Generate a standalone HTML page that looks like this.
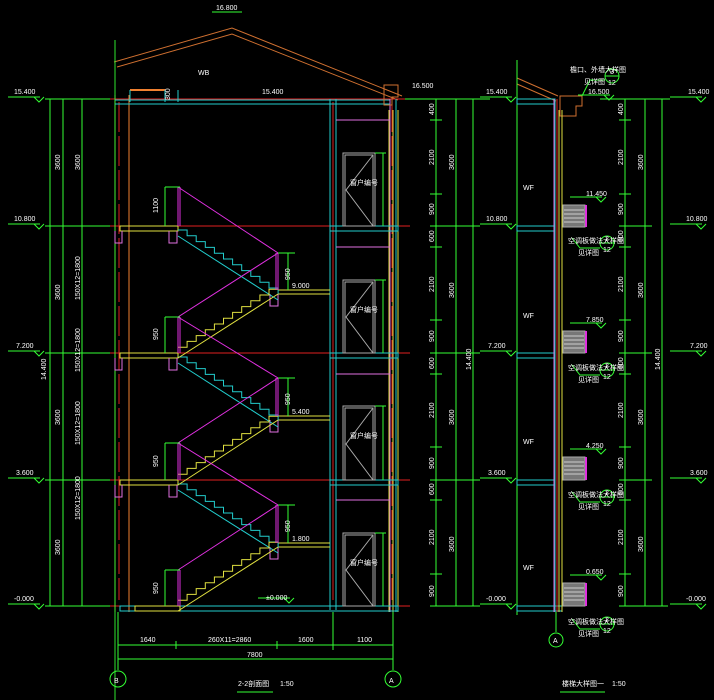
<!DOCTYPE html>
<html><head><meta charset="utf-8"><style>
html,body{margin:0;padding:0;background:#000;}
svg{display:block;}
text{font-family:"Liberation Sans","Noto Sans CJK SC",sans-serif;font-size:7px;fill:#fff;}
</style></head><body>
<svg width="714" height="700" viewBox="0 0 714 700" xmlns="http://www.w3.org/2000/svg">
<rect width="714" height="700" fill="#000"/>
<defs>
<path id="dn" d="M0,0 h9.1 v5.8 h9.1 v5.8 h9.1 v5.8 h9.1 v5.8 h9.1 v5.8 h9.1 v5.8 h9.1 v5.8 h9.1 v5.8 h9.1 v5.8 h9.1 v5.8 h9.1 v5.8" fill="none"/>
<path id="up" d="M0,0 v-5.8 h9.1 v-5.8 h9.1 v-5.8 h9.1 v-5.8 h9.1 v-5.8 h9.1 v-5.8 h9.1 v-5.8 h9.1 v-5.8 h9.1 v-5.8 h9.1 v-5.8 h9.1 v-5.8 h9.1" fill="none"/>
<g id="lvl"><path d="M0,0 h32 M26,0 l5,5 l5,-5" stroke="#3f3" fill="none"/></g>
</defs>

<!-- roof -->
<g stroke="#d07030" fill="none">
<path d="M114,62 L232,28 L402,96"/>
<path d="M117,67 L232,34 L398,100"/>
</g>
<text x="216" y="10">16.800</text>
<path d="M212,12 h30" stroke="#3f3"/>
<text x="198" y="75" font-size="5">WB</text>

<!-- floor lines red -->
<g stroke="#e02020">
<path d="M100,99 H410 M100,226 H410 M100,353 H410 M100,480 H410 M100,606 H410"/>
<path d="M119,102 V600" stroke-dasharray="30 4"/>
<path d="M392,102 V600" stroke-dasharray="30 4"/>
<path d="M333,102 V600"/>
</g>
<!-- left wall -->
<g stroke="#f08030"><path d="M115,95 V612 M129,95 V612"/></g>
<path d="M115,40 V700" stroke="#3f3" opacity="0.9"/>
<!-- top parapet -->
<path d="M130,90 H165" stroke="#f08030" stroke-width="2"/>
<g stroke="#2cc" fill="none"><path d="M115,100 H390 M115,104 H390 M130,90 V102 M165,90 V102 M178,90 V102"/></g>
<text x="168" y="98" font-size="5" transform="rotate(-90 170 98)">300</text>
<text x="262" y="94">15.400</text>

<!-- right walls -->
<g stroke="#2cc" fill="none"><path d="M330,99 V610 M336,99 V610 M396,99 V612"/></g>
<g stroke="#e0e040"><path d="M389,110 V612 M393,110 V612 M398,110 V612"/></g>
<path d="M390,99 V612" stroke="#e070e0"/>
<path d="M384,85 h14 v12 h-6 v8 h-8z" stroke="#d07030" fill="none"/>
<text x="412" y="88">16.500</text>
<!-- floor slabs -->
<g stroke="#2cc" fill="none">
<rect x="330" y="226" width="68" height="5"/><rect x="330" y="353" width="68" height="5"/>
<rect x="330" y="480" width="68" height="5"/><rect x="120" y="606" width="278" height="5"/>
</g>
<g stroke="#e070e0" fill="none">
<path d="M336,120 H390 M336,247 H390 M336,374 H390 M336,500 H390"/>
</g>
<!-- windows -->
<g stroke="#aaa" fill="none">
<rect x="343" y="153" width="32" height="73"/><rect x="345" y="155" width="28" height="71"/>
<rect x="343" y="280" width="32" height="73"/><rect x="345" y="282" width="28" height="71"/>
<rect x="343" y="406" width="32" height="74"/><rect x="345" y="408" width="28" height="72"/>
<rect x="343" y="533" width="32" height="73"/><rect x="345" y="535" width="28" height="71"/>
<path d="M373,155 L346,190 L373,226 M373,282 L346,317 L373,353 M373,408 L346,444 L373,480 M373,535 L346,570 L373,606"/>
</g>
<g font-size="5"><text x="350" y="185">窗户编号</text><text x="350" y="312">窗户编号</text><text x="350" y="438">窗户编号</text><text x="350" y="565">窗户编号</text></g>
<g stroke="#3f3"><path d="M375,153 H386 M383,153 V226 M375,280 H386 M383,280 V353 M375,406 H386 M383,406 V480 M375,533 H386 M383,533 V606"/></g>

<!-- floor slabs left (yellow) -->
<g stroke="#e0e040" fill="none">
<rect x="120" y="226" width="58" height="5"/><rect x="120" y="353" width="58" height="5"/>
<rect x="120" y="480" width="58" height="5"/><rect x="135" y="606" width="45" height="5"/>
<path d="M278,290 H330 M278,416 H330 M278,543 H330"/>
<path d="M278,294 H330 M278,420 H330 M278,547 H330"/>
</g>
<g stroke="#e070e0" fill="none">
<path d="M115,231 v12 h7 v-12 M115,358 v12 h7 v-12 M115,485 v12 h7 v-12"/>
<path d="M169,231 v12 h8 v-12 M169,358 v12 h8 v-12 M169,485 v12 h8 v-12"/>
<path d="M270,294 v12 h8 v-12 M270,420 v12 h8 v-12 M270,547 v12 h8 v-12"/>
</g>
<!-- stairs cyan (down) -->
<g stroke="#2cc">
<use href="#dn" x="178" y="230"/><use href="#dn" x="178" y="357"/><use href="#dn" x="178" y="484"/>
<path d="M178,236 L278,300 M178,363 L278,427 M178,490 L278,553"/>
</g>
<!-- stairs yellow (up) -->
<g stroke="#e0e040">
<use href="#up" x="178" y="353"/><use href="#up" x="178" y="480"/><use href="#up" x="178" y="606"/>
<path d="M178,358 L278,294 M178,485 L278,420 M178,611 L278,547"/>
</g>
<!-- magenta railing -->
<g stroke="#e030e0" fill="none">
<polyline points="178,187 278,253 178,317 278,378 178,443 278,505 178,570"/>
<path d="M178,187 V226 M180,187 V226 M178,317 V353 M180,317 V353 M178,443 V480 M180,443 V480 M178,570 V606 M180,570 V606"/>
<path d="M278,253 V290 M276,253 V290 M278,378 V416 M276,378 V416 M278,505 V543 M276,505 V543"/>
</g>
<g stroke="#3f3"><path d="M165,187 H180 M165,187 V226 M165,317 H180 M165,317 V353 M165,443 H180 M165,443 V480 M165,570 H180 M165,570 V606 M278,253 H295 M288,253 V290 M278,378 H295 M288,378 V416 M278,505 H295 M288,505 V543"/></g>
<g font-size="6">
<text x="158" y="213" transform="rotate(-90 158 213)">1100</text>
<text x="158" y="340" transform="rotate(-90 158 340)">950</text>
<text x="158" y="467" transform="rotate(-90 158 467)">950</text>
<text x="158" y="594" transform="rotate(-90 158 594)">950</text>
<text x="290" y="280" transform="rotate(-90 290 280)">950</text>
<text x="290" y="405" transform="rotate(-90 290 405)">950</text>
<text x="290" y="532" transform="rotate(-90 290 532)">950</text>
</g>
<text x="292" y="288">9.000</text><text x="292" y="414">5.400</text><text x="292" y="541">1.800</text>
<use href="#lvl" x="258" y="598"/><text x="266" y="600">±0.000</text>

<!-- left dimension lines -->
<g stroke="#3f3" fill="none">
<path d="M45,99 H110 M45,226 H110 M45,353 H110 M45,480 H110 M45,606 H110"/>
<path d="M50,99 V606 M63,99 V606 M82,99 V606"/>
</g>
<g><use href="#lvl" x="8" y="97"/><use href="#lvl" x="8" y="224"/><use href="#lvl" x="8" y="351"/><use href="#lvl" x="8" y="478"/><use href="#lvl" x="8" y="604"/></g>
<text x="14" y="94">15.400</text><text x="14" y="221">10.800</text><text x="16" y="348">7.200</text><text x="16" y="475">3.600</text><text x="14" y="601">-0.000</text>
<g font-size="6">
<text x="60" y="170" transform="rotate(-90 60 170)">3600</text>
<text x="80" y="170" transform="rotate(-90 80 170)">3600</text>
<text x="60" y="300" transform="rotate(-90 60 300)">3600</text>
<text x="80" y="300" transform="rotate(-90 80 300)">150X12=1800</text>
<text x="80" y="372" transform="rotate(-90 80 372)">150X12=1800</text>
<text x="46" y="380" transform="rotate(-90 46 380)">14.400</text>
<text x="60" y="425" transform="rotate(-90 60 425)">3600</text>
<text x="80" y="445" transform="rotate(-90 80 445)">150X12=1800</text>
<text x="80" y="520" transform="rotate(-90 80 520)">150X12=1800</text>
<text x="60" y="555" transform="rotate(-90 60 555)">3600</text>
</g>

<!-- right dimension lines of section -->
<g stroke="#3f3" fill="none">
<path d="M405,99 H490 M436,99 V606 M456,99 V606 M473,99 V606"/>
<path d="M430,120 H442 M430,194 H442 M430,226 H480 M430,247 H442 M430,320 H442 M430,353 H480 M430,374 H442 M430,447 H442 M430,480 H480 M430,500 H442 M430,574 H442 M430,606 H480"/>
</g>
<g font-size="6">
<text x="434" y="115" transform="rotate(-90 434 115)">400</text>
<text x="434" y="165" transform="rotate(-90 434 165)">2100</text>
<text x="434" y="215" transform="rotate(-90 434 215)">900</text>
<text x="434" y="242" transform="rotate(-90 434 242)">600</text>
<text x="434" y="292" transform="rotate(-90 434 292)">2100</text>
<text x="434" y="342" transform="rotate(-90 434 342)">900</text>
<text x="434" y="369" transform="rotate(-90 434 369)">600</text>
<text x="434" y="418" transform="rotate(-90 434 418)">2100</text>
<text x="434" y="469" transform="rotate(-90 434 469)">900</text>
<text x="434" y="495" transform="rotate(-90 434 495)">600</text>
<text x="434" y="545" transform="rotate(-90 434 545)">2100</text>
<text x="434" y="597" transform="rotate(-90 434 597)">900</text>
<text x="454" y="170" transform="rotate(-90 454 170)">3600</text>
<text x="454" y="298" transform="rotate(-90 454 298)">3600</text>
<text x="454" y="425" transform="rotate(-90 454 425)">3600</text>
<text x="454" y="552" transform="rotate(-90 454 552)">3600</text>
<text x="471" y="370" transform="rotate(-90 471 370)">14.400</text>
</g>
<g><use href="#lvl" x="480" y="97"/><use href="#lvl" x="480" y="224"/><use href="#lvl" x="480" y="351"/><use href="#lvl" x="480" y="478"/><use href="#lvl" x="480" y="604"/></g>
<text x="486" y="94">15.400</text><text x="486" y="221">10.800</text><text x="488" y="348">7.200</text><text x="488" y="475">3.600</text><text x="486" y="601">-0.000</text>

<!-- bottom dims -->
<g stroke="#3f3" fill="none">
<path d="M118,612 V670 M393,612 V670 M333,612 V650"/>
<path d="M118,645 H393 M118,659 H393"/>
<path d="M176,641 V649 M277,641 V649 M333,641 V649"/>
<circle cx="118" cy="679" r="8"/><circle cx="393" cy="679" r="8"/>
<path d="M237,692 H273"/>
</g>
<text x="140" y="642">1640</text><text x="208" y="642">260X11=2860</text><text x="298" y="642">1600</text><text x="357" y="642">1100</text>
<text x="247" y="657">7800</text>
<text x="114" y="683" font-size="9">B</text><text x="389" y="683" font-size="9">A</text>
<text x="238" y="686" font-size="9">2-2剖面图</text><text x="280" y="686" font-size="6">1:50</text>

<!-- right detail -->
<g stroke="#d07030" fill="none"><path d="M517,78 L558,96 M517,84 L556,101"/><path d="M560,96 h22 v10 h-6 v10 h-16z"/></g>
<path d="M517,60 V615" stroke="#3f3"/>
<g stroke="#2cc" fill="none">
<rect x="517" y="99" width="38" height="5"/><rect x="517" y="226" width="38" height="5"/>
<rect x="517" y="353" width="38" height="5"/><rect x="517" y="480" width="38" height="5"/><rect x="517" y="606" width="45" height="5"/>
<path d="M555,99 V612"/>
</g>
<g stroke="#e070e0"><path d="M554,99 V612"/></g>
<path d="M557,99 V612" stroke="#e02020"/>
<g stroke="#e0e040"><path d="M559,110 V612 M562,110 V612"/></g>
<g fill="#777" stroke="#aaa">
<rect x="563" y="205" width="22" height="22"/><rect x="563" y="331" width="22" height="22"/>
<rect x="563" y="457" width="22" height="23"/><rect x="563" y="583" width="22" height="23"/>
</g>
<g stroke="#ccc"><path d="M564,210 h20 M564,214 h20 M564,218 h20 M564,222 h20 M564,336 h20 M564,340 h20 M564,344 h20 M564,348 h20 M564,462 h20 M564,466 h20 M564,470 h20 M564,474 h20 M564,588 h20 M564,592 h20 M564,596 h20 M564,600 h20"/></g>
<g stroke="#e030e0" stroke-width="2"><path d="M586,205 V227 M586,331 V353 M586,457 V480 M586,583 V606"/></g>
<g><use href="#lvl" x="570" y="197"/><use href="#lvl" x="570" y="323"/><use href="#lvl" x="570" y="449"/><use href="#lvl" x="570" y="575"/><use href="#lvl" x="578" y="95"/></g>
<text x="586" y="196">11.450</text><text x="586" y="322">7.850</text><text x="586" y="448">4.250</text><text x="586" y="574">0.650</text><text x="588" y="94">16.500</text>
<g stroke="#3f3" fill="none">
<circle cx="607" cy="243" r="7"/><circle cx="607" cy="370" r="7"/><circle cx="607" cy="497" r="7"/><circle cx="607" cy="624" r="7"/><circle cx="612" cy="76" r="7"/>
<path d="M572,238 L580,248 H600 M572,365 L580,375 H600 M572,492 L580,502 H600 M572,619 L580,629 H600 M582,96 L590,80 H605"/>
<path d="M600,243 H614 M600,370 H614 M600,497 H614 M600,624 H614 M605,76 H619"/>
</g>
<g font-size="5"><text x="605" y="241">2</text><text x="603" y="252">12</text><text x="605" y="368">2</text><text x="603" y="379">12</text><text x="605" y="495">2</text><text x="603" y="506">12</text><text x="605" y="622">2</text><text x="603" y="633">12</text><text x="610" y="74">3</text><text x="608" y="85">12</text></g>
<g font-size="5"><text x="568" y="243">空调板做法大样图</text><text x="578" y="255">见详图</text><text x="568" y="370">空调板做法大样图</text><text x="578" y="382">见详图</text><text x="568" y="497">空调板做法大样图</text><text x="578" y="509">见详图</text><text x="568" y="624">空调板做法大样图</text><text x="578" y="636">见详图</text><text x="570" y="72">檐口、外墙大样图</text><text x="584" y="84">见详图</text></g>
<g font-size="5"><text x="523" y="190">WF</text><text x="523" y="318">WF</text><text x="523" y="444">WF</text><text x="523" y="570">WF</text></g>
<g stroke="#3f3" fill="none">
<path d="M600,99 H670 M625,99 V606 M645,99 V606 M662,99 V606"/>
<path d="M619,120 H631 M619,194 H631 M619,226 H652 M619,247 H631 M619,320 H631 M619,353 H652 M619,374 H631 M619,447 H631 M619,480 H652 M619,500 H631 M619,574 H631 M619,606 H668"/>
<path d="M556,612 V632"/><circle cx="556" cy="640" r="7"/>
<path d="M560,692 H605"/>
</g>
<text x="553" y="643" font-size="7">A</text>
<g font-size="6">
<text x="623" y="115" transform="rotate(-90 623 115)">400</text>
<text x="623" y="165" transform="rotate(-90 623 165)">2100</text>
<text x="623" y="215" transform="rotate(-90 623 215)">900</text>
<text x="623" y="242" transform="rotate(-90 623 242)">600</text>
<text x="623" y="292" transform="rotate(-90 623 292)">2100</text>
<text x="623" y="342" transform="rotate(-90 623 342)">900</text>
<text x="623" y="369" transform="rotate(-90 623 369)">600</text>
<text x="623" y="418" transform="rotate(-90 623 418)">2100</text>
<text x="623" y="469" transform="rotate(-90 623 469)">900</text>
<text x="623" y="495" transform="rotate(-90 623 495)">600</text>
<text x="623" y="545" transform="rotate(-90 623 545)">2100</text>
<text x="623" y="597" transform="rotate(-90 623 597)">900</text>
<text x="643" y="170" transform="rotate(-90 643 170)">3600</text>
<text x="643" y="298" transform="rotate(-90 643 298)">3600</text>
<text x="643" y="425" transform="rotate(-90 643 425)">3600</text>
<text x="643" y="552" transform="rotate(-90 643 552)">3600</text>
<text x="660" y="370" transform="rotate(-90 660 370)">14.400</text>
</g>
<g><use href="#lvl" x="670" y="97"/><use href="#lvl" x="670" y="224"/><use href="#lvl" x="670" y="351"/><use href="#lvl" x="670" y="478"/><use href="#lvl" x="670" y="604"/></g>
<text x="688" y="94">15.400</text><text x="686" y="221">10.800</text><text x="690" y="348">7.200</text><text x="690" y="475">3.600</text><text x="686" y="601">-0.000</text>
<text x="562" y="686" font-size="8">楼梯大样图一</text><text x="612" y="686" font-size="6">1:50</text>
</svg>
</body></html>
